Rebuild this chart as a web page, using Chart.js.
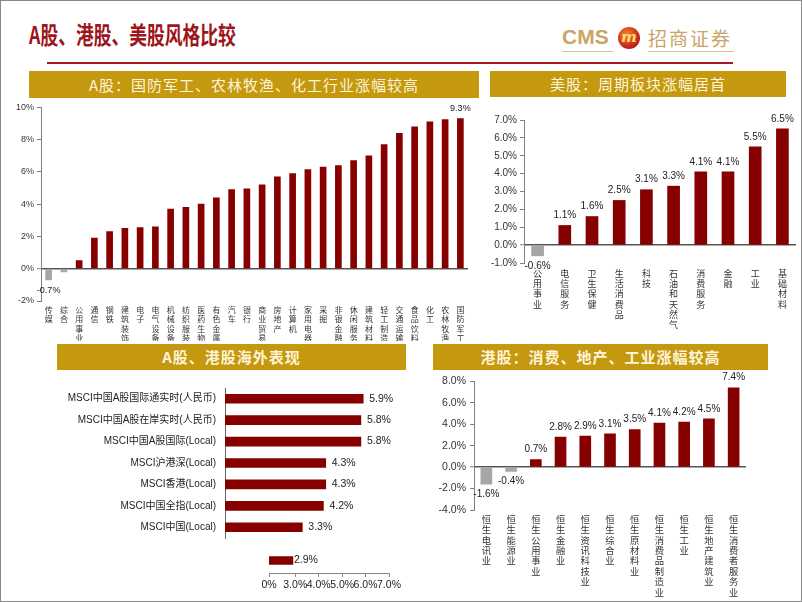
<!DOCTYPE html>
<html>
<head>
<meta charset="utf-8">
<script src="https://cdn.jsdelivr.net/npm/chart.js@4.4.1/dist/chart.umd.min.js"></script>
<style>
  body { margin: 0; background: #fff; }
  #slide { position: relative; width: 800px; height: 600px; border: 1px solid #888; overflow: hidden;
           font-family: "Noto Sans CJK SC", sans-serif; }
  .title { position: absolute; left: 28px; top: 15px; font-size: 24px; font-weight: bold; color: #9E151B;
           transform: scaleX(0.74); transform-origin: left top; white-space: nowrap; }
  .rule { position: absolute; left: 46px; top: 61px; width: 686px; height: 2px; background: #A31B21; }
  .cms { position: absolute; left: 561px; top: 24px; font-family: "Liberation Sans", sans-serif; font-size: 21px;
         font-weight: bold; color: #CBA466; }
  .cmsname { position: absolute; left: 647px; top: 23px; font-size: 19px; color: #CBA466; letter-spacing: 2px; }
  .uline { position: absolute; top: 50px; height: 1px; background: #D9C090; }
  .logo { position: absolute; left: 617px; top: 26px; width: 22px; height: 22px; border-radius: 50%;
          background: radial-gradient(circle at 40% 35%, #F58A2A, #C8281E 60%, #8E0F14);
          color: #FFD77A; font: italic bold 15px "DejaVu Serif", serif; text-align: center; line-height: 20px; }
  .head { position: absolute; background: #C5990F; color: #FFF4D8; font-size: 15px; text-align: center;
          letter-spacing: 1px; }
  canvas { position: absolute; }
</style>
</head>
<body>
<div id="slide">
  <div class="title">A股、港股、美股风格比较</div>
  <div class="cms">CMS</div>
  <div class="uline" style="left:561px;width:51px"></div>
  <div class="logo">m</div>
  <div class="cmsname">招商证券</div>
  <div class="uline" style="left:647px;width:86px"></div>
  <div class="rule"></div>

  <div class="head" style="left:28px;top:70px;width:450px;height:27px;line-height:27px">A股：国防军工、农林牧渔、化工行业涨幅较高</div>
  <div class="head" style="left:489px;top:70px;width:296px;height:26px;line-height:26px">美股：周期板块涨幅居首</div>
  <div class="head" style="left:56px;top:343px;width:349px;height:26px;line-height:26px;font-weight:bold">A股、港股海外表现</div>
  <div class="head" style="left:432px;top:343px;width:335px;height:26px;line-height:26px;font-weight:bold">港股：消费、地产、工业涨幅较高</div>

  <canvas id="aChart" width="480" height="242" style="left:0;top:98px"></canvas>
  <canvas id="usChart" width="320" height="240" style="left:480px;top:98px"></canvas>
  <canvas id="msciChart" width="420" height="180" style="left:0;top:372px"></canvas>
  <canvas id="msciExtra" width="155" height="50" style="left:255px;top:547px"></canvas>
  <canvas id="hkChart" width="380" height="228" style="left:420px;top:370px"></canvas>
</div>

<script>
// A股 申万行业涨跌幅(%)
const aLabels = ["传媒", "综合", "公用事业", "通信", "钢铁", "建筑装饰", "电子", "电气设备", "机械设备", "纺织服装",
  "医药生物", "有色金属", "汽车", "银行", "商业贸易", "房地产", "计算机", "家用电器", "采掘", "非银金融",
  "休闲服务", "建筑材料", "轻工制造", "交通运输", "食品饮料", "化工", "农林牧渔", "国防军工"];
const aValues = [-0.7, -0.2, 0.5, 1.9, 2.3, 2.5, 2.55, 2.6, 3.7, 3.8,
  4.0, 4.4, 4.9, 4.95, 5.2, 5.7, 5.9, 6.15, 6.3, 6.4,
  6.7, 7.0, 7.7, 8.4, 8.8, 9.1, 9.25, 9.3];
const aShown = [0, 27]; // only min and max are labelled

// 美股
const usLabels = ["公用事业", "电信服务", "卫生保健", "生活消费品", "科技", "石油和天然气", "消费服务", "金融", "工业", "基础材料"];
const usValues = [-0.6, 1.1, 1.6, 2.5, 3.1, 3.3, 4.1, 4.1, 5.5, 6.5];

// MSCI
const msciLabels = ["MSCI中国A股国际通实时(人民币)", "MSCI中国A股在岸实时(人民币)", "MSCI中国A股国际(Local)",
  "MSCI沪港深(Local)", "MSCI香港(Local)", "MSCI中国全指(Local)", "MSCI中国(Local)"];
const msciValues = [5.9, 5.8, 5.8, 4.3, 4.3, 4.2, 3.3];
const msciExtraValues = [2.9]; // unlabelled bar under the axis

// 港股 恒生行业
const hkLabels = ["恒生电讯业", "恒生能源业", "恒生公用事业", "恒生金融业", "恒生资讯科技业", "恒生综合业",
  "恒生原材料业", "恒生消费品制造业", "恒生工业", "恒生地产建筑业", "恒生消费者服务业"];
const hkValues = [-1.6, -0.4, 0.7, 2.8, 2.9, 3.1, 3.5, 4.1, 4.2, 4.5, 7.4];

const RED = "#870000";
const GRAY = "#A6A6A6";

Chart.defaults.font.family = '"Liberation Sans", "Noto Sans CJK SC", sans-serif';
Chart.defaults.color = "#222";

function barColors(values) {
  return values.map((v) => (v < 0 ? GRAY : RED));
}

function vertical(s) {
  return Array.from(s);
}

// value labels drawn at the end of each bar
const valueLabels = {
  id: "valueLabels",
  afterDatasetsDraw(chart, args, opts) {
    const ctx = chart.ctx;
    const meta = chart.getDatasetMeta(0);
    const data = chart.data.datasets[0].data;
    const horizontal = chart.options.indexAxis === "y";
    ctx.save();
    ctx.font = opts.font;
    ctx.fillStyle = opts.color || "#222";
    ctx.textBaseline = "middle";
    meta.data.forEach((bar, i) => {
      if (opts.only && !opts.only.includes(i)) return;
      const v = data[i];
      const txt = v.toFixed(1) + "%";
      if (horizontal) {
        ctx.textAlign = "left";
        ctx.fillText(txt, bar.x + opts.offset, bar.y);
      } else {
        ctx.textAlign = "center";
        const y = v >= 0 ? bar.y - opts.offset : bar.y + opts.offset;
        ctx.fillText(txt, bar.x, y);
      }
    });
    ctx.restore();
  },
};

function zeroGrid() {
  return {
    drawOnChartArea: true,
    color: (c) => (c.tick && c.tick.value === 0 ? "#555" : "rgba(0,0,0,0)"),
    lineWidth: (c) => (c.tick && c.tick.value === 0 ? 1.5 : 1),
    tickColor: "#7f7f7f",
    tickWidth: 1,
    tickLength: 4,
  };
}

function columnChart(id, cfg) {
  return new Chart(document.getElementById(id), {
    type: "bar",
    data: {
      labels: cfg.labels.map(vertical),
      datasets: [{
        data: cfg.values,
        backgroundColor: barColors(cfg.values),
        barThickness: cfg.barWidth,
      }],
    },
    options: {
      responsive: false,
      animation: false,
      layout: { padding: cfg.padding },
      plugins: {
        legend: { display: false },
        tooltip: { enabled: false },
        valueLabels: cfg.labelOpts,
      },
      scales: {
        x: {
          grid: { display: false, drawTicks: false },
          border: { display: false },
          ticks: {
            autoSkip: false, maxRotation: 0, minRotation: 0,
            padding: cfg.xPad, color: "#333",
            font: { size: cfg.xFont, lineHeight: cfg.xLine },
          },
          afterFit: (s) => { s.height = cfg.xHeight; },
        },
        y: {
          min: cfg.min, max: cfg.max,
          grid: zeroGrid(),
          border: { display: true, color: "#7f7f7f" },
          ticks: {
            stepSize: cfg.step, padding: cfg.yPad, color: "#333",
            font: { size: cfg.yFont },
            callback: cfg.yFormat,
          },
          afterFit: (s) => { s.width = cfg.yWidth; },
        },
      },
    },
    plugins: [valueLabels],
  });
}

// A股
columnChart("aChart", {
  labels: aLabels, values: aValues, barWidth: 6,
  padding: { top: 5, right: 13, left: 0, bottom: 0 },
  min: -2, max: 10, step: 2, yFormat: (v) => v + "%", yFont: 9, yPad: 3, yWidth: 40,
  xFont: 8, xLine: 1.17, xPad: 5, xHeight: 40,
  labelOpts: { font: '9px "Liberation Sans"', offset: 10, only: aShown, color: "#222" },
});

// 美股
columnChart("usChart", {
  labels: usLabels, values: usValues, barWidth: 12,
  padding: { top: 21, right: 5, left: 0, bottom: 0 },
  min: -1, max: 7, step: 1, yFormat: (v) => v.toFixed(1) + "%", yFont: 10, yPad: 3, yWidth: 43,
  xFont: 9, xLine: 1.15, xPad: 6, xHeight: 76,
  labelOpts: { font: '10px "Liberation Sans"', offset: 10 },
});

// 港股
columnChart("hkChart", {
  labels: hkLabels, values: hkValues, barWidth: 11,
  padding: { top: 6, right: 55, left: 0, bottom: 0 },
  min: -4, max: 8, step: 2, yFormat: (v) => v.toFixed(1) + "%", yFont: 10.5, yPad: 4, yWidth: 53,
  xFont: 9.3, xLine: 1.12, xPad: 5, xHeight: 89,
  labelOpts: { font: '10px "Liberation Sans"', offset: 10 },
});

// MSCI 海外表现
new Chart(document.getElementById("msciChart"), {
  type: "bar",
  data: {
    labels: msciLabels,
    datasets: [{ data: msciValues, backgroundColor: RED, barThickness: 9 }],
  },
  options: {
    indexAxis: "y",
    responsive: false,
    animation: false,
    layout: { padding: { top: 5, right: 32, bottom: 5, left: 0 } },
    plugins: {
      legend: { display: false },
      tooltip: { enabled: false },
      valueLabels: { font: '10.5px "Liberation Sans"', offset: 6 },
    },
    scales: {
      x: { display: false, min: 0, max: 7 },
      y: {
        grid: { display: false, drawTicks: false },
        border: { display: true, color: "#666" },
        ticks: { padding: 9, color: "#222", font: { size: 10 } },
        afterFit: (s) => { s.width = 224; },
      },
    },
  },
  plugins: [valueLabels],
});

// the stray bar + axis left under the MSCI chart (axis starts part-way, first tick shown as 0%)
new Chart(document.getElementById("msciExtra"), {
  type: "bar",
  data: {
    labels: [""],
    datasets: [{ data: msciExtraValues, backgroundColor: RED, barThickness: 8 }],
  },
  options: {
    indexAxis: "y",
    responsive: false,
    animation: false,
    layout: { padding: { top: 0, right: 22, bottom: 0, left: 13 } },
    plugins: {
      legend: { display: false },
      tooltip: { enabled: false },
      valueLabels: { font: '10.5px "Liberation Sans"', offset: 1 },
    },
    scales: {
      y: { display: false },
      x: {
        min: 1.88, max: 7,
        grid: { drawOnChartArea: false, tickLength: 4, color: "#888" },
        border: { display: true, color: "#888" },
        afterBuildTicks: (s) => { s.ticks = [1.88, 3, 4, 5, 6, 7].map((v) => ({ value: v })); },
        ticks: {
          autoSkip: false, maxRotation: 0, minRotation: 0,
          padding: 2, color: "#222", font: { size: 10.5 },
          callback: (v) => (v < 3 ? "0%" : v.toFixed(1) + "%"),
        },
        afterFit: (s) => { s.height = 25; },
      },
    },
  },
  plugins: [valueLabels],
});
</script>
</body>
</html>
